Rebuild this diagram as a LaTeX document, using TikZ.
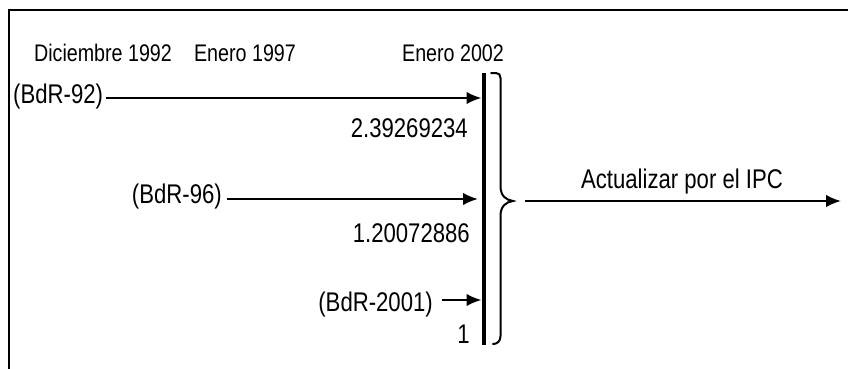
\documentclass[tikz,border=0pt]{standalone}
\usepackage{fontspec}
\setmainfont{Liberation Sans}[FakeStretch=0.82]
\usetikzlibrary{arrows.meta}
\begin{document}
\begin{tikzpicture}[x=1pt,y=-1pt,
  lbl/.style={inner sep=0pt, font=\fontsize{27}{32}\selectfont},
  hdr/.style={inner sep=0pt, font=\fontsize{24}{29}\selectfont},
  feed/.style={line width=2pt, -{Latex[length=15pt,width=12.5pt]}},
  bar/.style={line width=4.5pt},
  bracket/.style={line width=2pt, line cap=round},
  frame/.style={line width=2pt}
]
\useasboundingbox (0,0) rectangle (848,369);

% open frame
\draw[frame] (9.3,369) -- (9.3,10.3) -- (848,10.3);

% dates along the top
\node[hdr, anchor=base] (d92) at (103,62) {Diciembre 1992};
\node[hdr, anchor=base] (d97) at (245,62) {Enero 1997};
\node[hdr, anchor=base] (d02) at (453,62) {Enero 2002};

% vertical bar at January 2002
\coordinate (bartop) at (484,73);
\coordinate (barbot) at (484,345);
\draw[bar] (bartop) -- (barbot);

% entry points on the bar
\coordinate (in92) at (481.5,98);
\coordinate (in96) at (478,199);
\coordinate (in01) at (481.5,300);

% series labels
\node[lbl, anchor=base west] (b92) at (13,103) {(BdR-92)};
\node[lbl, anchor=base east] (b96) at (222,203) {(BdR-96)};
\node[lbl, anchor=base east] (b01) at (433,311) {(BdR-2001)};

% splicing factors
\node[lbl, anchor=base east] (f92) at (468,137) {2.39269234};
\node[lbl, anchor=base east] (f96) at (470,242) {1.20072886};
\node[lbl, anchor=base east] (f01) at (470,343) {1};

% arrows into the bar
\draw[feed, shorten <=3pt] (b92.east |- in92) -- (in92);
\draw[feed, shorten <=5pt] (b96.east |- in96) -- (in96);
\draw[feed, shorten <=9pt] (b01.east |- in01) -- (in01);

% right brace grouping the three series
\draw[bracket] (491,73) -- (496,73)
  .. controls (499,73) and (500.5,75) .. (500.5,78)
  -- (500.5,186)
  .. controls (500.5,196) and (506,200) .. (513,201)
  .. controls (506,202) and (500.5,206) .. (500.5,216)
  -- (500.5,336)
  .. controls (500.5,341) and (497.5,344) .. (493,344);
\coordinate (bracetip) at (513,201);

% update by CPI
\coordinate (outstart) at (525,201);
\coordinate (outend) at (841,201);
\draw[feed] (outstart) -- (outend);
\node[lbl, anchor=base] (ipc) at (682,188) {Actualizar por el IPC};
\end{tikzpicture}
\end{document}
